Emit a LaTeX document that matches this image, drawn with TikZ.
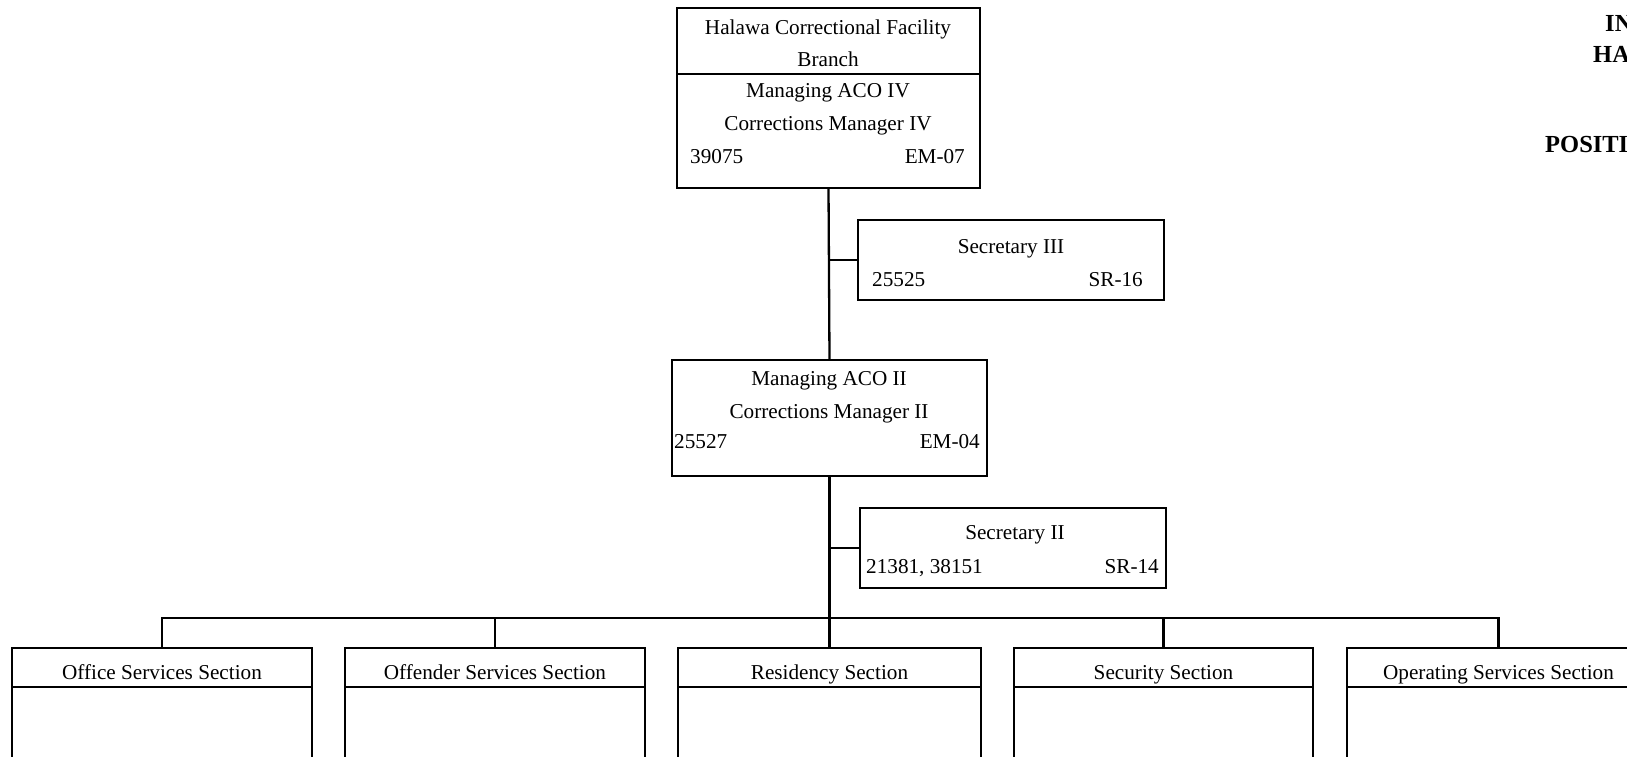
\documentclass[tikz,border=0pt]{standalone}
\usepackage{fontspec}
\setmainfont{Liberation Serif}
\begin{document}
\begin{tikzpicture}[x=1pt,y=-1pt,
  box/.style={draw=black, line width=2.3pt, rectangle, inner sep=0pt, outer sep=0pt, anchor=north west},
  lbl/.style={font=\fontsize{21.2}{23}\selectfont, inner sep=0pt, anchor=base},
  lblw/.style={lbl, anchor=base west},
  lble/.style={lbl, anchor=base east},
  ttl/.style={font=\fontsize{24.5}{26}\selectfont\bfseries, inner sep=0pt, anchor=base west},
  conn/.style={draw=black, line width=2.3pt}]
\useasboundingbox (0,0) rectangle (1627,757);
\clip (0,0) rectangle (1627,757);
\fill[white] (0,0) rectangle (1627,757);

% title (cut off at the right edge)
\node[ttl] (ti1) at (1605,32) {IN};
\node[ttl] (ti2) at (1593,63) {HA};
\node[ttl] (ti3) at (1545,153) {POSITI};

% top box
\node[box, minimum width=303pt, minimum height=66pt] (toph) at (677,8) {};
\node[box, minimum width=303pt, minimum height=114pt] (topb) at (677,74) {};
\node[lbl] (t1) at (828,35) {Halawa Correctional Facility};
\node[lbl] (t2) at (828,67) {Branch};
\node[lbl] (t3) at (828,98) {Managing ACO IV};
\node[lbl] (t4) at (828,131) {Corrections Manager IV};
\node[lblw] (t5) at (690,163) {39075};
\node[lble] (t6) at (965,163) {EM-07};

% secretary III
\node[box, minimum width=306pt, minimum height=80pt] (sec3) at (858,220) {};
\node[lbl] (s31) at (1011,253) {Secretary III};
\node[lblw] (s32) at (872,286) {25525};
\node[lble] (s33) at (1143,286) {SR-16};

% managing ACO II
\node[box, minimum width=315pt, minimum height=116pt] (mgr) at (672,360) {};
\node[lbl] (m1) at (829,385) {Managing ACO II};
\node[lbl] (m2) at (829,418) {Corrections Manager II};
\node[lblw] (m3) at (674,448) {25527};
\node[lble] (m4) at (980,448) {EM-04};

% secretary II
\node[box, minimum width=306pt, minimum height=80pt] (sec2) at (860,508) {};
\node[lbl] (s21) at (1015,539) {Secretary II};
\node[lblw] (s22) at (866,573) {21381, 38151};
\node[lble] (s23) at (1159,573) {SR-14};

% sections
\foreach \n/\xl/\w/\txt in {off/12/300/Office Services Section,
                          ofd/345/300/Offender Services Section,
                          res/678/303/Residency Section,
                          sec/1014/299/Security Section,
                          ops/1347/303/Operating Services Section}{
  \node[box, minimum width=\w pt, minimum height=39pt] (\n h) at (\xl,648) {};
  \node[box, minimum width=\w pt, minimum height=120pt] (\n b) at (\xl,687) {};
  \node[lbl] (\n t) at ([yshift=-12pt]\n h.center) {\txt};
}

% connectors
\coordinate (busy) at (0,618);
\draw[conn] (topb.south) -- (mgr.north);
\draw[conn] (sec3.west) -- (sec3.west -| topb.south);
\draw[conn] (mgr.south) -- (resh.north);
\draw[conn] (sec2.west) -- (sec2.west -| mgr.south);
\draw[conn] (offh.north) |- (busy -| opsh.north) -- (opsh.north);
\draw[conn] (ofdh.north) -- (ofdh.north |- busy);
\draw[conn] (sech.north) -- (sech.north |- busy);
\end{tikzpicture}
\end{document}
